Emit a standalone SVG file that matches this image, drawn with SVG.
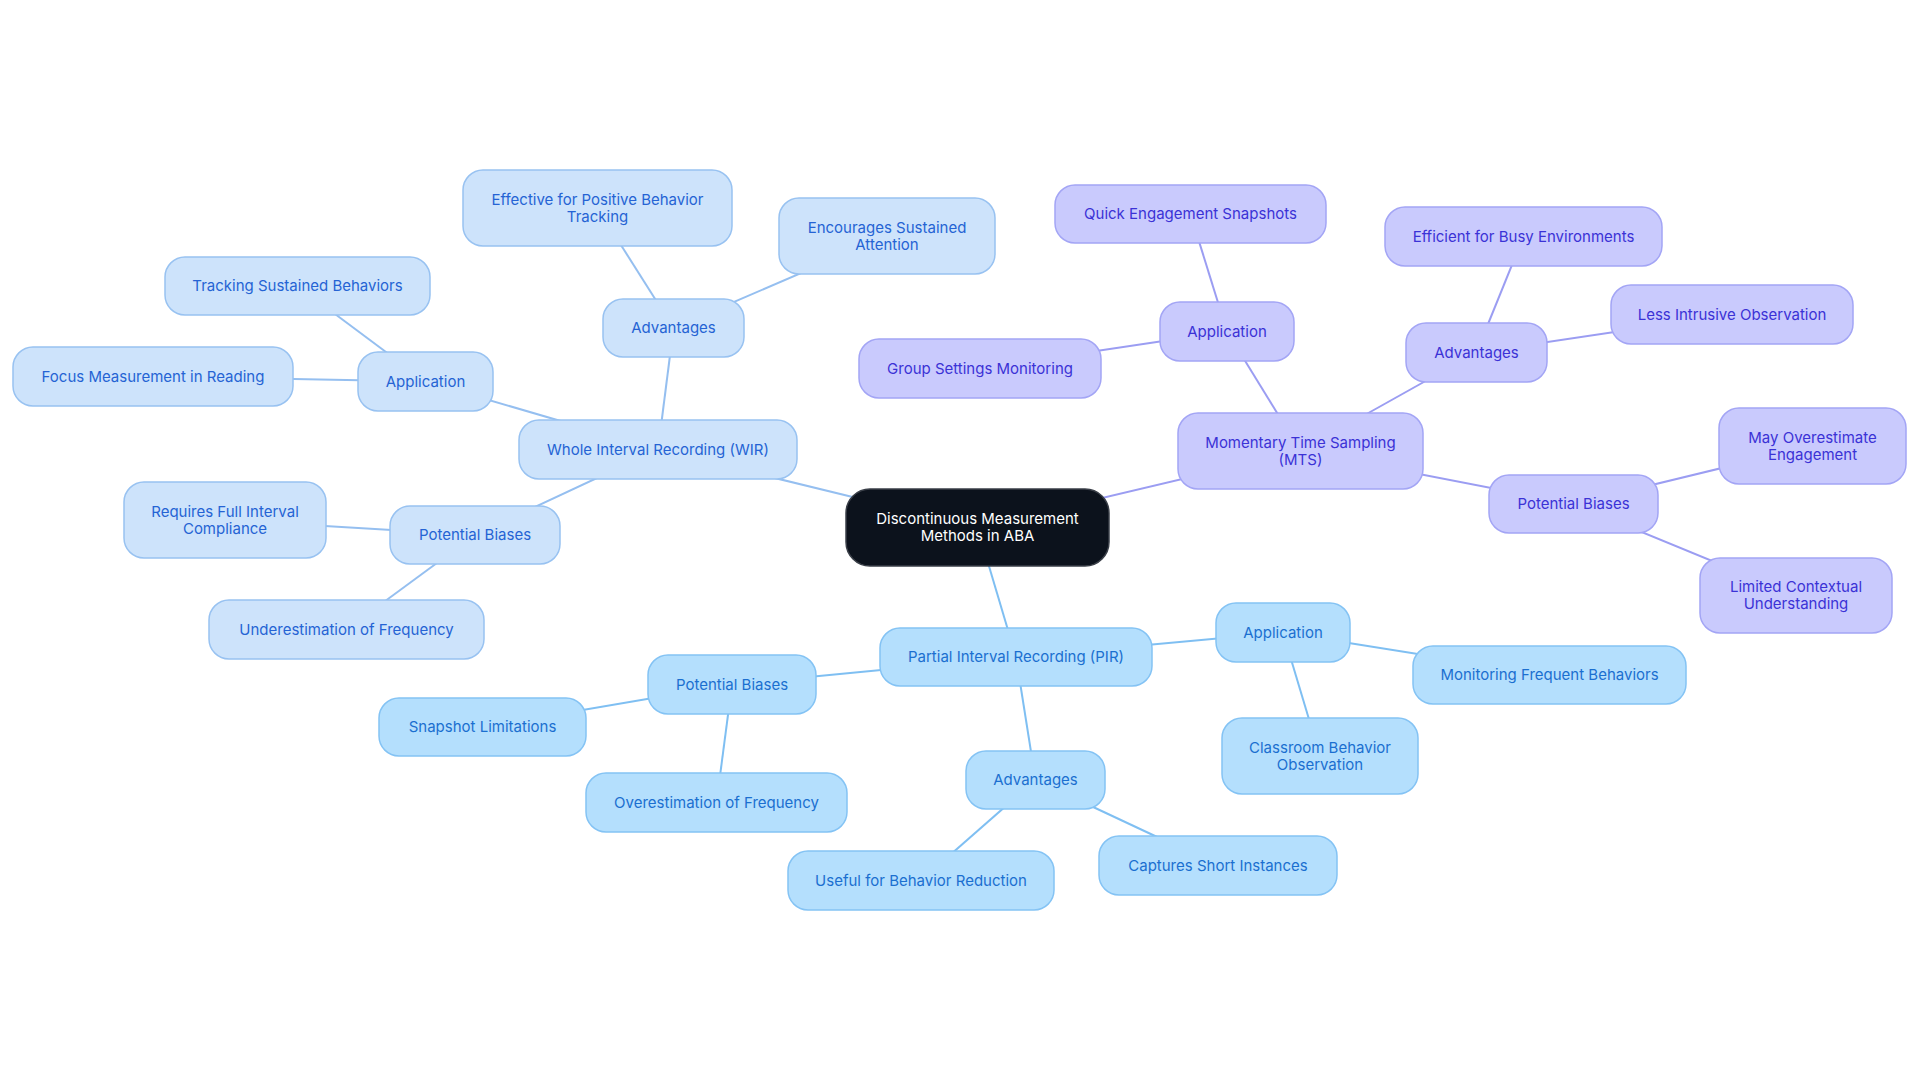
<svg xmlns="http://www.w3.org/2000/svg" width="1920" height="1083" viewBox="0 0 1920 1083">
<style>
text{font-family:Inter,"Liberation Sans",sans-serif;font-size:15px;text-anchor:middle}
.w rect{fill:#cde3fb;stroke:#98c2f1;stroke-width:1.5}
.w text{fill:#2563d4}
.m rect{fill:#c9cafd;stroke:#a3a5f5;stroke-width:1.5}
.m text{fill:#3b32d6}
.p rect{fill:#b4dffd;stroke:#84c3f4;stroke-width:1.5}
.p text{fill:#1b6fd0}
.c rect{fill:#0c121c;stroke:#3a3f48;stroke-width:1.5}
.c text{fill:#ffffff}
#connectors line{stroke-width:2;fill:none}
.lw{stroke:#95bff0}
.lm{stroke:#9b9df2}
.lp{stroke:#7fbff2}
</style>
<rect width="1920" height="1083" fill="#ffffff"/>
<g id="connectors">
<line class="lw" x1="977.5" y1="527.5" x2="658" y2="449.5"/>
<line class="lw" x1="658" y1="449.5" x2="673.5" y2="328"/>
<line class="lw" x1="673.5" y1="328" x2="597.5" y2="208"/>
<line class="lw" x1="673.5" y1="328" x2="887" y2="236"/>
<line class="lw" x1="658" y1="449.5" x2="425.5" y2="381.5"/>
<line class="lw" x1="425.5" y1="381.5" x2="297.5" y2="286"/>
<line class="lw" x1="425.5" y1="381.5" x2="153" y2="376.5"/>
<line class="lw" x1="658" y1="449.5" x2="475" y2="535"/>
<line class="lw" x1="475" y1="535" x2="225" y2="520"/>
<line class="lw" x1="475" y1="535" x2="346.5" y2="629.5"/>
<line class="lm" x1="977.5" y1="527.5" x2="1300.5" y2="451"/>
<line class="lm" x1="1300.5" y1="451" x2="1227" y2="331.5"/>
<line class="lm" x1="1227" y1="331.5" x2="1190.5" y2="214"/>
<line class="lm" x1="1227" y1="331.5" x2="980" y2="368.5"/>
<line class="lm" x1="1300.5" y1="451" x2="1476.5" y2="352.5"/>
<line class="lm" x1="1476.5" y1="352.5" x2="1523.5" y2="236.5"/>
<line class="lm" x1="1476.5" y1="352.5" x2="1732" y2="314.5"/>
<line class="lm" x1="1300.5" y1="451" x2="1573.5" y2="504"/>
<line class="lm" x1="1573.5" y1="504" x2="1812.5" y2="446"/>
<line class="lm" x1="1573.5" y1="504" x2="1796" y2="595.5"/>
<line class="lp" x1="977.5" y1="527.5" x2="1016" y2="657"/>
<line class="lp" x1="1016" y1="657" x2="1283" y2="632.5"/>
<line class="lp" x1="1283" y1="632.5" x2="1549.5" y2="675"/>
<line class="lp" x1="1283" y1="632.5" x2="1320" y2="756"/>
<line class="lp" x1="1016" y1="657" x2="732" y2="684.5"/>
<line class="lp" x1="732" y1="684.5" x2="482.5" y2="727"/>
<line class="lp" x1="732" y1="684.5" x2="716.5" y2="802.5"/>
<line class="lp" x1="1016" y1="657" x2="1035.5" y2="780"/>
<line class="lp" x1="1035.5" y1="780" x2="921" y2="880.5"/>
<line class="lp" x1="1035.5" y1="780" x2="1218" y2="865.5"/>
</g>
<g id="center" class="c"><rect x="846" y="489" width="263" height="77" rx="24"/><text x="977.5" y="524">Discontinuous Measurement</text><text x="977.5" y="541">Methods in ABA</text></g>
<g id="wir" class="w"><rect x="519" y="420" width="278" height="59" rx="20"/><text x="658" y="454.5">Whole Interval Recording (WIR)</text></g>
<g id="wir-adv" class="w"><rect x="603" y="299" width="141" height="58" rx="20"/><text x="673.5" y="333">Advantages</text></g>
<g id="wir-adv-1" class="w"><rect x="463" y="170" width="269" height="76" rx="20"/><text x="597.5" y="204.5">Effective for Positive Behavior</text><text x="597.5" y="221.5">Tracking</text></g>
<g id="wir-adv-2" class="w"><rect x="779" y="198" width="216" height="76" rx="20"/><text x="887" y="232.5">Encourages Sustained</text><text x="887" y="249.5">Attention</text></g>
<g id="wir-app" class="w"><rect x="358" y="352" width="135" height="59" rx="20"/><text x="425.5" y="386.5">Application</text></g>
<g id="wir-app-1" class="w"><rect x="165" y="257" width="265" height="58" rx="20"/><text x="297.5" y="291">Tracking Sustained Behaviors</text></g>
<g id="wir-app-2" class="w"><rect x="13" y="347" width="280" height="59" rx="20"/><text x="153" y="381.5">Focus Measurement in Reading</text></g>
<g id="wir-pb" class="w"><rect x="390" y="506" width="170" height="58" rx="20"/><text x="475" y="540">Potential Biases</text></g>
<g id="wir-pb-1" class="w"><rect x="124" y="482" width="202" height="76" rx="20"/><text x="225" y="516.5">Requires Full Interval</text><text x="225" y="533.5">Compliance</text></g>
<g id="wir-pb-2" class="w"><rect x="209" y="600" width="275" height="59" rx="20"/><text x="346.5" y="634.5">Underestimation of Frequency</text></g>
<g id="mts" class="m"><rect x="1178" y="413" width="245" height="76" rx="20"/><text x="1300.5" y="447.5">Momentary Time Sampling</text><text x="1300.5" y="464.5">(MTS)</text></g>
<g id="mts-app" class="m"><rect x="1160" y="302" width="134" height="59" rx="20"/><text x="1227" y="336.5">Application</text></g>
<g id="mts-app-1" class="m"><rect x="1055" y="185" width="271" height="58" rx="20"/><text x="1190.5" y="219">Quick Engagement Snapshots</text></g>
<g id="mts-app-2" class="m"><rect x="859" y="339" width="242" height="59" rx="20"/><text x="980" y="373.5">Group Settings Monitoring</text></g>
<g id="mts-adv" class="m"><rect x="1406" y="323" width="141" height="59" rx="20"/><text x="1476.5" y="357.5">Advantages</text></g>
<g id="mts-adv-1" class="m"><rect x="1385" y="207" width="277" height="59" rx="20"/><text x="1523.5" y="241.5">Efficient for Busy Environments</text></g>
<g id="mts-adv-2" class="m"><rect x="1611" y="285" width="242" height="59" rx="20"/><text x="1732" y="319.5">Less Intrusive Observation</text></g>
<g id="mts-pb" class="m"><rect x="1489" y="475" width="169" height="58" rx="20"/><text x="1573.5" y="509">Potential Biases</text></g>
<g id="mts-pb-1" class="m"><rect x="1719" y="408" width="187" height="76" rx="20"/><text x="1812.5" y="442.5">May Overestimate</text><text x="1812.5" y="459.5">Engagement</text></g>
<g id="mts-pb-2" class="m"><rect x="1700" y="558" width="192" height="75" rx="20"/><text x="1796" y="592">Limited Contextual</text><text x="1796" y="609">Understanding</text></g>
<g id="pir" class="p"><rect x="880" y="628" width="272" height="58" rx="20"/><text x="1016" y="662">Partial Interval Recording (PIR)</text></g>
<g id="pir-app" class="p"><rect x="1216" y="603" width="134" height="59" rx="20"/><text x="1283" y="637.5">Application</text></g>
<g id="pir-app-1" class="p"><rect x="1413" y="646" width="273" height="58" rx="20"/><text x="1549.5" y="680">Monitoring Frequent Behaviors</text></g>
<g id="pir-app-2" class="p"><rect x="1222" y="718" width="196" height="76" rx="20"/><text x="1320" y="752.5">Classroom Behavior</text><text x="1320" y="769.5">Observation</text></g>
<g id="pir-pb" class="p"><rect x="648" y="655" width="168" height="59" rx="20"/><text x="732" y="689.5">Potential Biases</text></g>
<g id="pir-pb-1" class="p"><rect x="379" y="698" width="207" height="58" rx="20"/><text x="482.5" y="732">Snapshot Limitations</text></g>
<g id="pir-pb-2" class="p"><rect x="586" y="773" width="261" height="59" rx="20"/><text x="716.5" y="807.5">Overestimation of Frequency</text></g>
<g id="pir-adv" class="p"><rect x="966" y="751" width="139" height="58" rx="20"/><text x="1035.5" y="785">Advantages</text></g>
<g id="pir-adv-1" class="p"><rect x="788" y="851" width="266" height="59" rx="20"/><text x="921" y="885.5">Useful for Behavior Reduction</text></g>
<g id="pir-adv-2" class="p"><rect x="1099" y="836" width="238" height="59" rx="20"/><text x="1218" y="870.5">Captures Short Instances</text></g>
</svg>
